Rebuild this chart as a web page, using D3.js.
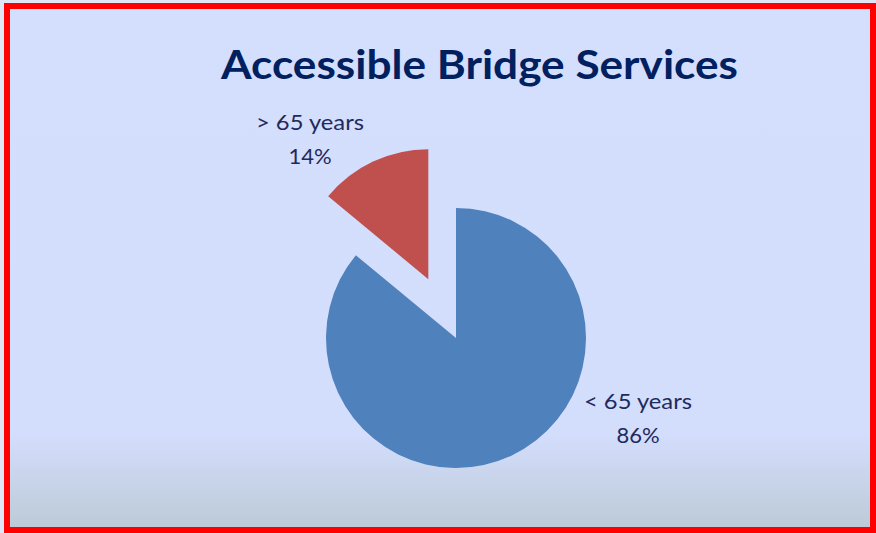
<!DOCTYPE html>
<html>
<head>
<meta charset="utf-8">
<script src="https://cdn.jsdelivr.net/npm/d3@7"></script>
<style>
  html, body { margin: 0; padding: 0; background: #dfe6f6; }
  svg { display: block; }
</style>
</head>
<body>
<div class="chart"></div>
<script>
const categories = ['< 65 years', '> 65 years']
const shares = [86, 14]
const sliceColors = ['#4f81bd', '#c0504d']
const exploded = [0, 65]
// label anchor offsets from pie centre (layout only)
const labelPos = [[182, 71], [-146, -208]]
const title = 'Accessible Bridge Services'

const W = 876, H = 533
const cx = 456, cy = 338, r = 130

const svg = d3.select('.chart')
	.append('svg')
	.attr('width', W)
	.attr('height', H)

const defs = svg.append('defs')
const grad = defs.append('linearGradient')
	.attr('id', 'bg')
	.attr('x1', 0).attr('y1', 0).attr('x2', 0).attr('y2', 1)
grad.append('stop').attr('offset', 0).attr('stop-color', '#d4defd')
grad.append('stop').attr('offset', 0.82).attr('stop-color', '#d3ddfc')
grad.append('stop').attr('offset', 1).attr('stop-color', '#bccad6')

svg.append('rect')
	.attr('x', 7).attr('y', 6)
	.attr('width', 866).attr('height', 524)
	.attr('fill', 'url(#bg)')
	.attr('stroke', '#ff0000')
	.attr('stroke-width', 6)

const titleText = svg.append('text')
	.attr('x', 479.5)
	.attr('y', 79)
	.attr('text-anchor', 'middle')
	.attr('font-family', 'Lato, "Open Sans", sans-serif')
	.attr('font-weight', 'bold')
	.attr('font-size', 40)
	.attr('fill', '#002060')
	.attr('textLength', 517)
	.attr('lengthAdjust', 'spacingAndGlyphs')
	.text(title)

const data = categories.map((c, i) => ({
	name: c, value: shares[i], color: sliceColors[i], off: exploded[i], lp: labelPos[i]
}))

const pie = d3.pie().sort(null).value(d => d.value)
const arc = d3.arc().innerRadius(0).outerRadius(r)

const g = svg.append('g').attr('transform', `translate(${cx},${cy})`)

const slices = g.selectAll('g.slice')
	.data(pie(data))
	.enter()
	.append('g')
	.attr('class', 'slice')
	.attr('transform', d => {
		const mid = (d.startAngle + d.endAngle) / 2
		const dx = Math.sin(mid) * d.data.off
		const dy = -Math.cos(mid) * d.data.off
		return `translate(${dx},${dy})`
	})

slices.append('path')
	.attr('d', arc)
	.attr('fill', d => d.data.color)

const labels = g.selectAll('text.lbl')
	.data(pie(data))
	.enter()
	.append('text')
	.attr('class', 'lbl')
	.attr('text-anchor', 'middle')
	.attr('font-family', 'Lato, "Open Sans", sans-serif')
	.attr('font-size', 22)
	.attr('fill', '#1f2a5c')
	.attr('transform', d => `translate(${d.data.lp[0]},${d.data.lp[1]})`)

labels.append('tspan')
	.attr('x', 0).attr('dy', 0)
	.attr('textLength', 108)
	.attr('lengthAdjust', 'spacingAndGlyphs')
	.text(d => d.data.name)
labels.append('tspan')
	.attr('x', 0).attr('dy', 34)
	.text(d => d.data.value + '%')
</script>
</body>
</html>
